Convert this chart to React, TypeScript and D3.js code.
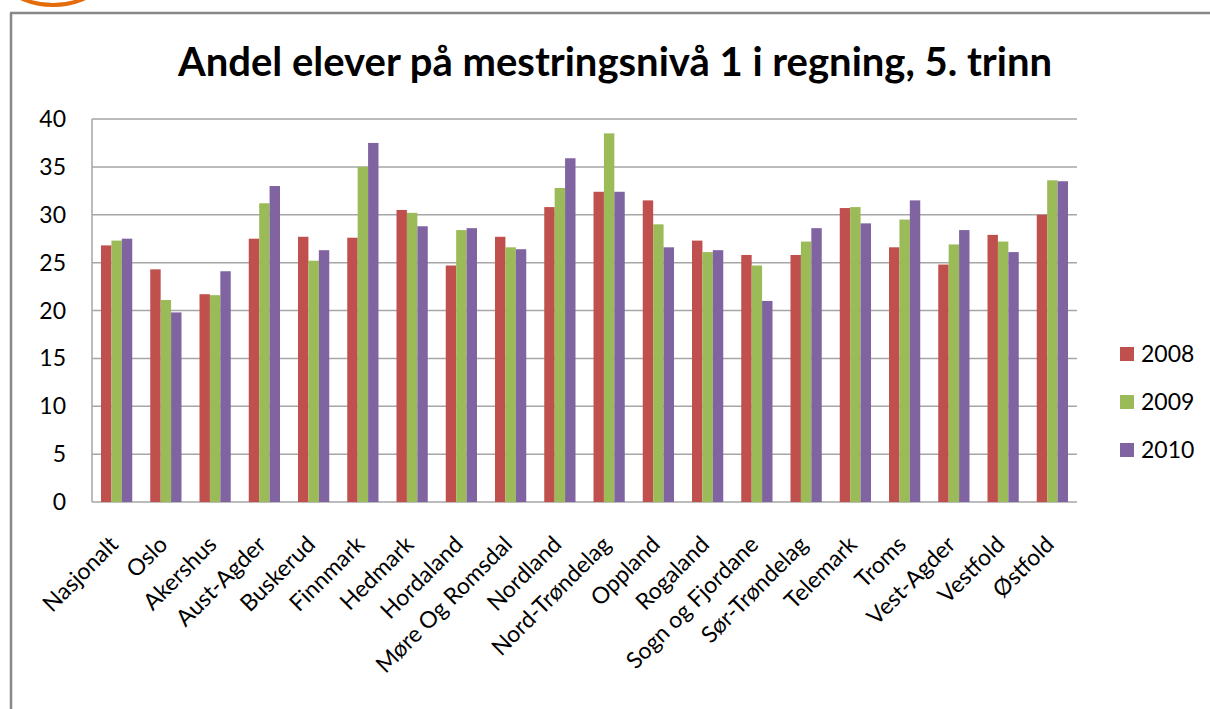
import React from "react";
import * as d3 from "d3";

const categories = [
  "Nasjonalt", "Oslo", "Akershus", "Aust-Agder", "Buskerud", "Finnmark", "Hedmark",
  "Hordaland", "Møre Og Romsdal", "Nordland", "Nord-Trøndelag", "Oppland", "Rogaland",
  "Sogn og Fjordane", "Sør-Trøndelag", "Telemark", "Troms", "Vest-Agder", "Vestfold", "Østfold",
];
const years = ["2008", "2009", "2010"];
const values2008 = [26.8, 24.3, 21.7, 27.5, 27.7, 27.6, 30.5, 24.7, 27.7, 30.8, 32.4, 31.5, 27.3, 25.8, 25.8, 30.7, 26.6, 24.8, 27.9, 30.0];
const values2009 = [27.3, 21.1, 21.6, 31.2, 25.2, 35.0, 30.2, 28.4, 26.6, 32.8, 38.5, 29.0, 26.1, 24.7, 27.2, 30.8, 29.5, 26.9, 27.2, 33.6];
const values2010 = [27.5, 19.8, 24.1, 33.0, 26.3, 37.5, 28.8, 28.6, 26.4, 35.9, 32.4, 26.6, 26.3, 21.0, 28.6, 29.1, 31.5, 28.4, 26.1, 33.5];
const yTicks = [0, 5, 10, 15, 20, 25, 30, 35, 40];
const colors = ["#C0504D", "#9BBB59", "#8064A2"];
const title = "Andel elever på mestringsnivå 1 i regning, 5. trinn";

const font = "Lato, 'Open Sans', sans-serif";

export default function App() {
  const series = [values2008, values2009, values2010];

  // plot area
  const left = 92, right = 1077, top = 119, bottom = 502;

  const x = d3.scaleBand().domain(categories).range([left, right]);
  const gap = 18;
  const x1 = d3.scaleBand().domain(years).range([gap / 2, x.bandwidth() - gap / 2]);
  const y = d3.scaleLinear().domain([0, 40]).range([bottom, top]);

  return (
    <svg width={1210} height={709} style={{ position: "absolute", left: 0, top: 0, background: "#fff" }}>
      {/* slide decoration */}
      <circle cx={53} cy={-73} r={78} fill="none" stroke="#E46C0A" strokeWidth={4} />
      <line x1={10} y1={13} x2={1210} y2={13} stroke="#888" strokeWidth={2.5} />
      <line x1={11} y1={13} x2={11} y2={709} stroke="#888" strokeWidth={2.5} />

      <text x={615} y={76} textAnchor="middle" fontFamily={font} fontWeight="bold" fontSize={40} fill="#000">
        {title}
      </text>

      {/* gridlines */}
      {yTicks.map((t) => (
        <line key={t} x1={left} x2={right} y1={y(t)} y2={y(t)} stroke="#A6A6A6" strokeWidth={1.5} />
      ))}
      <line x1={left} x2={left} y1={top} y2={bottom} stroke="#A6A6A6" strokeWidth={1.5} />

      {/* y labels */}
      {yTicks.map((t) => (
        <text key={t} x={66} y={y(t)} dy="0.35em" textAnchor="end" fontFamily={font} fontSize={23} fill="#000">
          {t}
        </text>
      ))}

      {/* bars */}
      {categories.map((c, i) => (
        <g key={c} transform={`translate(${x(c)},0)`}>
          {years.map((yr, j) => (
            <rect
              key={yr}
              x={x1(yr)}
              y={y(series[j][i])}
              width={x1.bandwidth()}
              height={y(0) - y(series[j][i])}
              fill={colors[j]}
            />
          ))}
        </g>
      ))}

      {/* x labels */}
      {categories.map((c) => (
        <text
          key={c}
          transform={`translate(${x(c)! + x.bandwidth() / 2 + 3},546) rotate(-45)`}
          textAnchor="end"
          fontFamily={font}
          fontSize={23}
          fill="#000"
        >
          {c}
        </text>
      ))}

      {/* legend */}
      {years.map((yr, j) => (
        <g key={yr} transform={`translate(1120,${347 + j * 48})`}>
          <rect width={14} height={14} fill={colors[j]} />
          <text x={21} y={15} fontFamily={font} fontSize={23} fill="#000">
            {yr}
          </text>
        </g>
      ))}
    </svg>
  );
}
